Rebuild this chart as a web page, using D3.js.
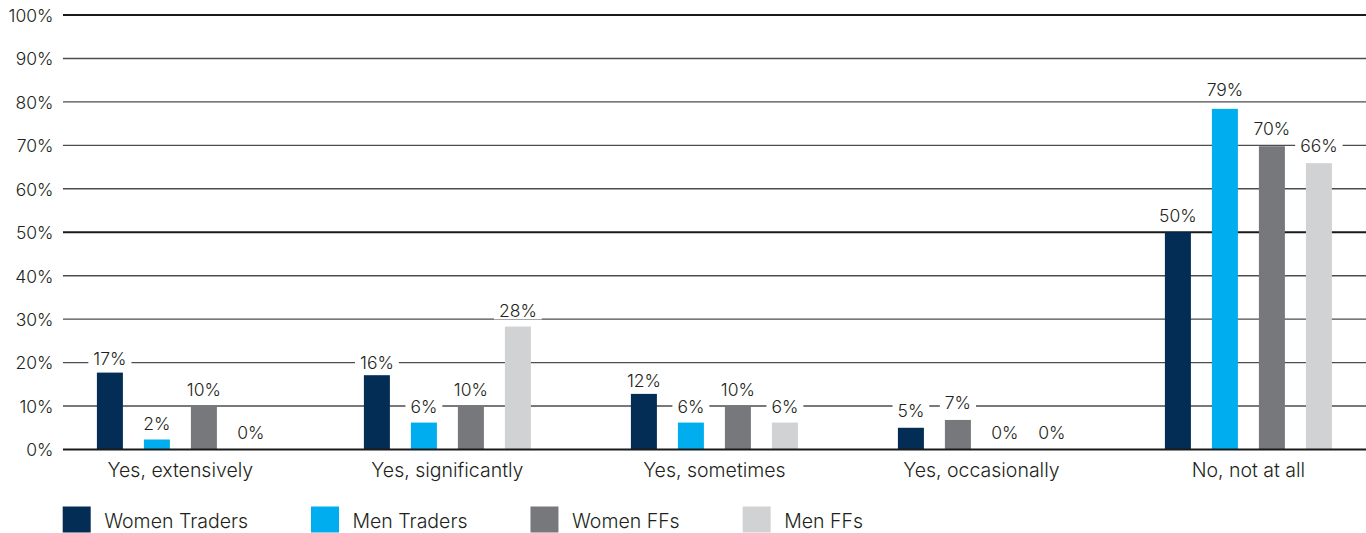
<!DOCTYPE html>
<html><head><meta charset="utf-8">
<script src="https://cdn.jsdelivr.net/npm/d3@7/dist/d3.min.js"></script>
<style>
html,body{margin:0;padding:0;background:#fff;}
svg{display:block;font-family:Inter,"Noto Sans",sans-serif;font-weight:300;}
</style></head>
<body>
<svg id="chart" width="1366" height="533"></svg>
<script>
const categories = ["Yes, extensively","Yes, significantly","Yes, sometimes","Yes, occasionally","No, not at all"];
const seriesNames = ["Women Traders","Men Traders","Women FFs","Men FFs"];
const seriesColors = ["#032d55","#00adee","#77787b","#d1d2d4"];
// bar heights (as drawn)
const womenTraders = [17.7, 17.1, 12.8, 5.0, 50.0];
const menTraders   = [2.3, 6.2, 6.2, 0, 78.4];
const womenFFs     = [10.0, 10.0, 10.0, 6.8, 69.8];
const menFFs       = [0, 28.3, 6.2, 0, 65.9];
// printed labels
const womenTradersLabels = ["17%","16%","12%","5%","50%"];
const menTradersLabels   = ["2%","6%","6%","0%","79%"];
const womenFFsLabels     = ["10%","10%","10%","7%","70%"];
const menFFsLabels       = ["0%","28%","6%","0%","66%"];
// slot order within each group (the 4th group is drawn in a different order)
const slotOrder = [[0,1,2,3],[0,1,2,3],[0,1,2,3],[0,2,1,3],[0,1,2,3]];
const yTicks = [0,10,20,30,40,50,60,70,80,90,100];
const majorTicks = [0,50,100];

const seriesValues = [womenTraders, menTraders, womenFFs, menFFs];
const seriesLabels = [womenTradersLabels, menTradersLabels, womenFFsLabels, menFFsLabels];

const svg = d3.select("#chart");
const gridLeft = 63, gridRight = 1366;
const yTop = 15, yBottom = 449.5;
const groupStep = 267, firstCenter = 180.4;

const y = d3.scaleLinear().domain([0,100]).range([yBottom, yTop]);
const x0 = d3.scaleBand().domain(categories)
  .range([firstCenter - groupStep/2, firstCenter - groupStep/2 + groupStep*categories.length])
  .paddingInner(0).paddingOuter(0);
const innerWidth = 188;
const x1 = d3.scaleBand().domain(d3.range(4)).range([0, innerWidth]).paddingInner(21/47).paddingOuter(21/94);

const textColor = "#231f20";

// gridlines
const grid = svg.append("g");
grid.selectAll("line").data(yTicks.filter(t => t !== 0)).join("line")
  .attr("x1", gridLeft).attr("x2", gridRight)
  .attr("y1", d => y(d)).attr("y2", d => y(d))
  .attr("stroke", d => majorTicks.includes(d) ? "#1a1a1a" : "#4d4d4d")
  .attr("stroke-width", d => majorTicks.includes(d) ? 2.2 : 1.4);

// y axis labels
const yAxis = d3.axisLeft(y).tickValues(yTicks).tickFormat(d => d + "%").tickSize(0).tickPadding(0);
const yg = svg.append("g").attr("transform", `translate(${gridLeft - 9.5},0)`).call(yAxis);
yg.select(".domain").remove();
yg.selectAll("text").attr("font-size", 17.5).attr("fill", textColor)
  .attr("font-family", "Inter, sans-serif").attr("font-weight", 300).attr("dy", "0.36em");

// build bar data
const bars = [];
categories.forEach((c, ci) => {
  slotOrder[ci].forEach((si, slot) => {
    bars.push({cat: c, ci, series: si, slot, value: seriesValues[si][ci], label: seriesLabels[si][ci]});
  });
});

const barG = svg.append("g");
barG.selectAll("rect").data(bars.filter(d => d.value > 0)).join("rect")
  .attr("x", d => x0(d.cat) + x0.bandwidth()/2 - innerWidth/2 + x1(d.slot))
  .attr("width", x1.bandwidth())
  .attr("y", d => y(d.value))
  .attr("height", d => y(0) - y(d.value))
  .attr("fill", d => seriesColors[d.series]);

// baseline
svg.append("line").attr("x1", gridLeft).attr("x2", gridRight)
  .attr("y1", y(0)).attr("y2", y(0)).attr("stroke", "#1a1a1a").attr("stroke-width", 2.2);

// data labels with white background
const lblG = svg.append("g");
const lbls = lblG.selectAll("g").data(bars).join("g")
  .attr("transform", d => {
    const cx = x0(d.cat) + x0.bandwidth()/2 - innerWidth/2 + x1(d.slot) + x1.bandwidth()/2;
    const v = parseFloat(d.label);
    return `translate(${cx},${y(v) - 10.5})`;
  });
const lblText = lbls.append("text")
  .attr("text-anchor", "middle")
  .attr("font-size", 17.5)
  .attr("fill", textColor)
  .text(d => d.label);
lblText.each(function() {
  const bb = this.getBBox();
  d3.select(this.parentNode).insert("rect", "text")
    .attr("x", bb.x - 5).attr("width", bb.width + 10)
    .attr("y", -15).attr("height", 17)
    .attr("fill", "#fff");
});

// category labels
svg.append("g").selectAll("text").data(categories).join("text")
  .attr("x", d => x0(d) + x0.bandwidth()/2)
  .attr("y", 477)
  .attr("text-anchor", "middle")
  .attr("font-size", 19.5)
  .attr("fill", textColor)
  .text(d => d);

// legend
const leg = svg.append("g").attr("transform", "translate(62.7,506.5)");
let lx = 0;
seriesNames.forEach((name, i) => {
  const g = leg.append("g").attr("transform", `translate(${lx},0)`);
  g.append("rect").attr("width", 28).attr("height", 26).attr("fill", seriesColors[i]);
  const t = g.append("text").attr("x", 41.5).attr("y", 21.5).attr("font-size", 19.5)
    .attr("fill", textColor).text(name);
  const w = t.node().getComputedTextLength();
  lx += 41.5 + w + 63;
});
</script>
</body></html>
